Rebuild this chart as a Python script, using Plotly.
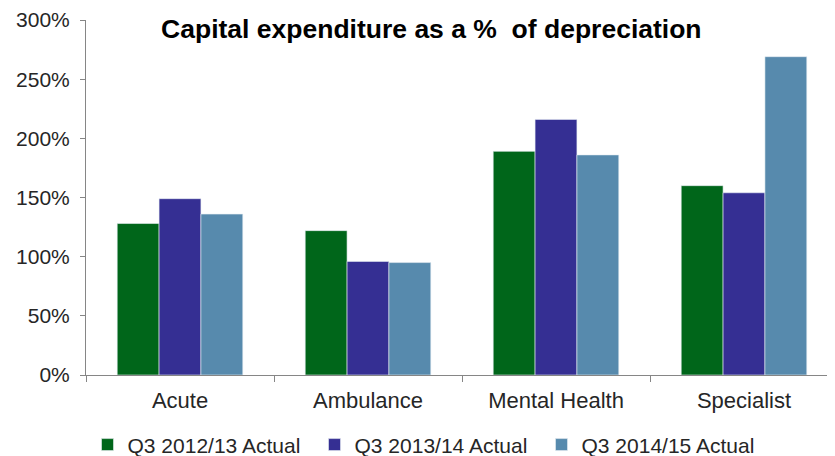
import plotly.graph_objects as go

categories = ["Acute", "Ambulance", "Mental Health", "Specialist"]
q3_2012_13 = [128, 122, 189, 160]
q3_2013_14 = [149, 96, 216, 154]
q3_2014_15 = [136, 95, 186, 269]
y_ticks = [0, 50, 100, 150, 200, 250, 300]

series = [
    ("Q3 2012/13 Actual", q3_2012_13, "#00661a"),
    ("Q3 2013/14 Actual", q3_2013_14, "#352f93"),
    ("Q3 2014/15 Actual", q3_2014_15, "#578aad"),
]

fig = go.Figure()
for name, values, color in series:
    fig.add_trace(
        go.Bar(
            x=categories,
            y=values,
            name=name,
            marker={"color": color, "line": {"color": "#e8eef4", "width": 0.6}},
        )
    )

# the page body adds an 8px offset, so the figure is laid out 8px up/left;
# extra height below keeps the legend from squeezing the plot area
font_family = "Liberation Sans, Arial, sans-serif"
fig.update_layout(
    width=835,
    height=475,
    margin={"l": 78, "r": 5, "t": 12, "b": 108},
    paper_bgcolor="white",
    plot_bgcolor="white",
    barmode="group",
    bargap=0.332,
    bargroupgap=0,
    font={"family": font_family, "size": 22, "color": "#262626"},
    title={
        "text": "<b>Capital expenditure as a %  of depreciation</b>",
        "x": 0.507,
        "xanchor": "center",
        "y": 0.957,
        "yanchor": "middle",
        "font": {"size": 26.5, "color": "black"},
        "automargin": False,
    },
    legend={
        "orientation": "h",
        "x": 0.002,
        "xanchor": "left",
        "y": -0.197,
        "yanchor": "middle",
        "entrywidth": 182,
        "entrywidthmode": "pixels",
        "itemwidth": 30,
        "font": {"size": 21},
        "traceorder": "normal",
    },
    showlegend=True,
)
fig.update_yaxes(
    range=[0, 300],
    tickvals=y_ticks,
    ticktext=[f"{v}%" for v in y_ticks],
    showgrid=False,
    showline=True,
    linecolor="#868686",
    linewidth=1,
    ticks="outside",
    ticklen=5,
    tickcolor="#868686",
    ticklabelstandoff=6,
    tickfont={"size": 21},
    zeroline=False,
    automargin=False,
)
fig.update_xaxes(
    showgrid=False,
    showline=True,
    linecolor="#868686",
    linewidth=1,
    ticks="outside",
    tickson="boundaries",
    ticklen=6,
    tickcolor="#868686",
    ticklabelstandoff=6,
    tickangle=0,
    automargin=False,
)

fig.write_html("out.html")
